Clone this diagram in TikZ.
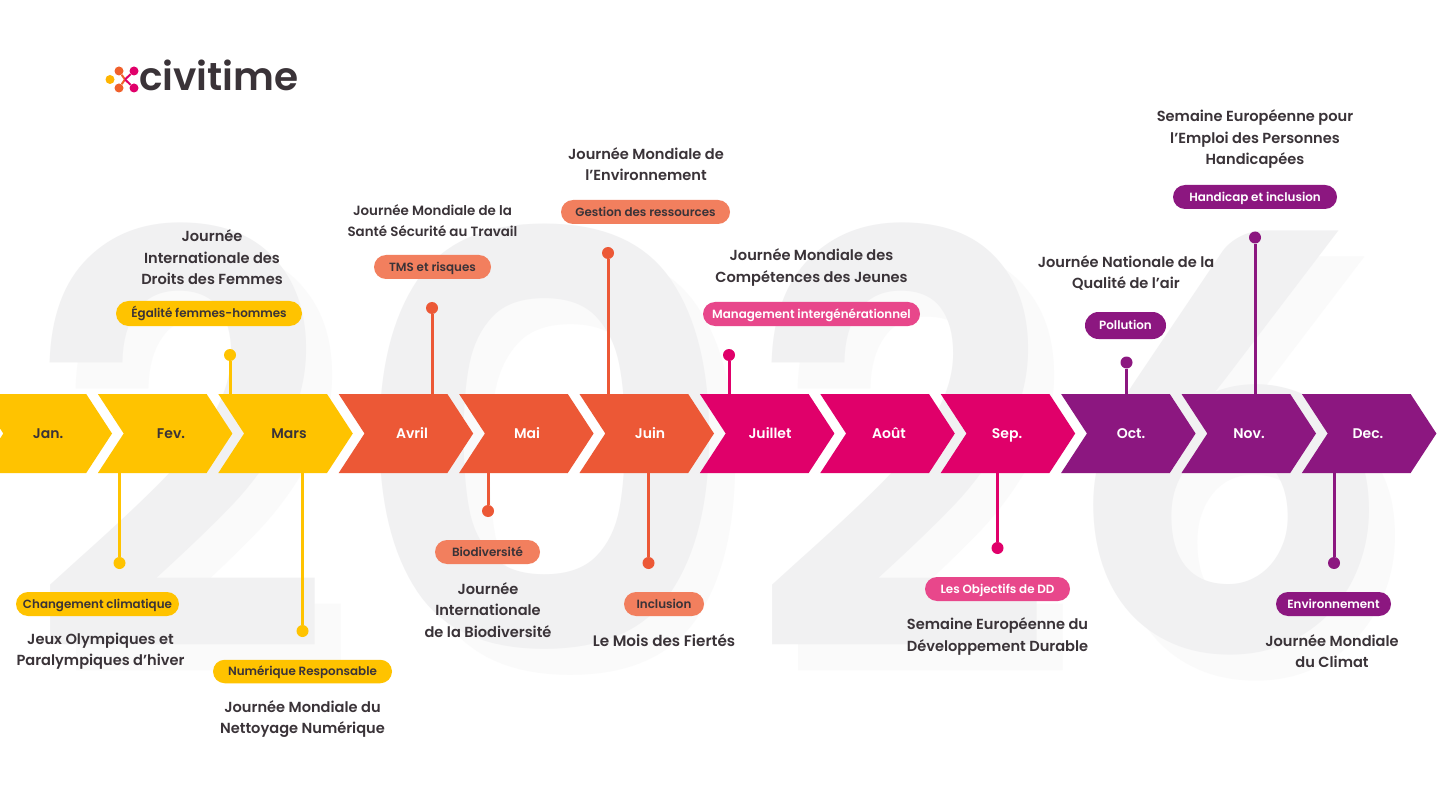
\documentclass[tikz,border=0pt]{standalone}
\usepackage{fontspec}
\setmainfont{Poppins}[UprightFont=* Medium,BoldFont=* SemiBold]
\newfontfamily\sixfont{Lato}[UprightFont=* Black]
\usetikzlibrary{shapes.misc}
\definecolor{ink}{HTML}{3A3338}
\definecolor{cy}{HTML}{FFC300}
\definecolor{co}{HTML}{EC5836}
\definecolor{cp}{HTML}{E0006A}
\definecolor{cv}{HTML}{8C1780}
\definecolor{po}{HTML}{F27F5E}
\definecolor{pp}{HTML}{E8478B}
\definecolor{bgmain}{HTML}{F1F1F2}
\definecolor{bgshade}{HTML}{FAFAFA}
\tikzset{
 month/.style={font=\bfseries\fontsize{14}{14}\selectfont,inner sep=0pt,text height=14pt,text depth=3pt},
 pill/.style={rounded rectangle,inner sep=0pt,font=\bfseries\fontsize{11.9}{11.9}\selectfont,text height=11pt,text depth=2.5pt},
 event/.style={align=center,text=ink,font=\bfseries\fontsize{14.6}{21.6}\selectfont,inner sep=0pt},
 dot/.style={circle,inner sep=0pt,minimum size=12pt},
 stem/.style={line width=3pt},
 bigdigit/.style={inner sep=0pt,anchor=base west,font=\fontsize{574}{574}\selectfont\bfseries},
 bigsix/.style={inner sep=0pt,anchor=base west,font=\fontsize{576}{576}\selectfont\sixfont},
}
\newcommand{\chev}[2]{\fill[#2] (#1,394) -- ++(108.7,0) -- ++(25.8,39.5) -- ++(-25.8,39.5) -- ++(-108.7,0) -- ++(25.8,-39.5) -- cycle;}
\newcommand{\narrowdigit}[1]{\scalebox{.933}[1]{#1}}
\newcommand{\widedigit}[1]{\scalebox{1.064}[1]{#1}}
\newcommand{\sixdigit}[1]{\scalebox{.91}[1]{#1}}
\begin{document}
\begin{tikzpicture}[x=1pt,y=-1pt]
\useasboundingbox (0,0) rectangle (1440,810);
\fill[white] (0,0) rectangle (1440,810);
% background year: lighter offset copy, then the main digits
\node[bigdigit,text=bgshade] (sa) at (52.7,676) {\narrowdigit{2}};
\node[bigdigit,text=bgshade] (sb) at (373.5,676) {\widedigit{0}};
\node[bigdigit,text=bgshade] (sc) at (774,676) {\narrowdigit{2}};
\node[bigsix,text=bgshade] (sd) at (1103.4,676) {\sixdigit{6}};
\node[bigdigit,text=bgmain] (ma) at (26.7,650) {\narrowdigit{2}};
\node[bigdigit,text=bgmain] (mb) at (347.5,650) {\widedigit{0}};
\node[bigdigit,text=bgmain] (mc) at (748,650) {\narrowdigit{2}};
\node[bigsix,text=bgmain] (md) at (1077.4,650) {\sixdigit{6}};
% logo
\coordinate (lc) at (125,79.5);
\node[dot,minimum size=9pt,fill=cy!80!orange] (l1) at (110,79.5) {};
\node[dot,minimum size=9pt,fill=co!80!orange] (l2) at (119,71) {};
\node[dot,minimum size=9pt,fill=co!80!orange] (l3) at (119,88) {};
\node[dot,minimum size=9pt,fill=cp] (l4) at (134,71) {};
\node[dot,minimum size=9pt,fill=cp] (l5) at (134,88) {};
\draw[line width=2pt,co!80!orange] (l2) -- (lc) (l3) -- (lc);
\draw[line width=2pt,cp] (l4) -- (lc) (l5) -- (lc);
\node[inner sep=0pt,anchor=base west,text=ink,font=\bfseries\fontsize{39}{39}\selectfont] (logo) at (139,91) {civitime};
% bar
\coordinate (top) at (0,394);
\coordinate (bot) at (0,473);
\chev{-22.5}{cy}\chev{97.9}{cy}\chev{218.3}{cy}
\chev{338.7}{co}\chev{459.1}{co}\chev{579.5}{co}
\chev{699.9}{cp}\chev{820.3}{cp}\chev{940.7}{cp}
\chev{1061.1}{cv}\chev{1181.5}{cv}\chev{1301.9}{cv}
\node[month,text=ink] (m1) at (48,433) {Jan.};
\node[month,text=ink] (m2) at (171,433) {Fev.};
\node[month,text=ink] (m3) at (289,433) {Mars};
\node[month,text=white] (m4) at (412,433) {Avril};
\node[month,text=white] (m5) at (527,433) {Mai};
\node[month,text=white] (m6) at (650,433) {Juin};
\node[month,text=white] (m7) at (770,433) {Juillet};
\node[month,text=white] (m8) at (889,433) {Août};
\node[month,text=white] (m9) at (1007,433) {Sep.};
\node[month,text=white] (m10) at (1131,433) {Oct.};
\node[month,text=white] (m11) at (1249,433) {Nov.};
\node[month,text=white] (m12) at (1368,433) {Dec.};
% markers
\node[dot,fill=cy] (d1) at (119.5,563) {};
\node[dot,fill=cy] (d2) at (230,355) {};
\node[dot,fill=cy] (d3) at (302.5,631) {};
\node[dot,fill=co] (d4) at (432,308) {};
\node[dot,fill=co] (d5) at (488,511) {};
\node[dot,fill=co] (d6) at (608,253) {};
\node[dot,fill=co] (d7) at (648.5,563) {};
\node[dot,fill=cp] (d8) at (729,355) {};
\node[dot,fill=cp] (d9) at (997.5,548) {};
\node[dot,fill=cv] (d10) at (1126.5,362.5) {};
\node[dot,fill=cv] (d11) at (1255,237.5) {};
\node[dot,fill=cv] (d12) at (1334,563) {};
\draw[stem,cy] (d1) -- (d1|-bot);
\draw[stem,cy] (d2) -- (d2|-top);
\draw[stem,cy] (d3) -- (d3|-bot);
\draw[stem,co] (d4) -- (d4|-top);
\draw[stem,co] (d5) -- (d5|-bot);
\draw[stem,co] (d6) -- (d6|-top);
\draw[stem,co] (d7) -- (d7|-bot);
\draw[stem,cp] (d8) -- (d8|-top);
\draw[stem,cp] (d9) -- (d9|-bot);
\draw[stem,cv] (d10) -- (d10|-top);
\draw[stem,cv] (d11) -- (d11|-top);
\draw[stem,cv] (d12) -- (d12|-bot);
% pills
\node[pill,fill=cy,text=ink,minimum width=186pt,minimum height=25pt] (p1) at (209,313.5) {Égalité femmes-hommes};
\node[pill,fill=po,text=ink,minimum width=117pt,minimum height=24pt] (p2) at (432.5,267) {TMS et risques};
\node[pill,fill=po,text=ink,minimum width=169pt,minimum height=24pt] (p3) at (645.5,212) {Gestion des ressources};
\node[pill,fill=pp,text=white,minimum width=217pt,minimum height=24pt] (p4) at (811.5,314) {Management intergénérationnel};
\node[pill,fill=cv,text=white,minimum width=81pt,minimum height=27pt] (p5) at (1125.5,325.5) {Pollution};
\node[pill,fill=cv,text=white,minimum width=164pt,minimum height=24pt] (p6) at (1255,197) {Handicap et inclusion};
\node[pill,fill=cy,text=ink,minimum width=163pt,minimum height=24pt] (p7) at (97.5,604) {Changement climatique};
\node[pill,fill=cy,text=ink,minimum width=179pt,minimum height=23.5pt] (p8) at (302.5,671.5) {Numérique Responsable};
\node[pill,fill=po,text=ink,minimum width=105pt,minimum height=24pt] (p9) at (487.5,552) {Biodiversité};
\node[pill,fill=po,text=ink,minimum width=80pt,minimum height=24pt] (p10) at (664,604) {Inclusion};
\node[pill,fill=pp,text=white,minimum width=145pt,minimum height=24pt] (p11) at (997.5,589) {Les Objectifs de DD};
\node[pill,fill=cv,text=white,minimum width=115pt,minimum height=24pt] (p12) at (1333.5,604) {Environnement};
% events
\node[event] (e1) at (212,257.5) {Journée\\Internationale des\\Droits des Femmes};
\node[event,font=\bfseries\fontsize{13.4}{21.6}\selectfont] (e2) at (432.5,220.5) {Journée Mondiale de la\\Santé Sécurité au Travail};
\node[event] (e3) at (646,164) {Journée Mondiale de\\l’Environnement};
\node[event] (e4) at (811.5,267.5) {Journée Mondiale des\\Compétences des Jeunes};
\node[event] (e5) at (1126,273) {Journée Nationale de la\\Qualité de l’air};
\node[event] (e6) at (1255,139) {Semaine Européenne pour\\l’Emploi des Personnes\\Handicapées};
\node[event] (e7) at (100.5,651) {Jeux Olympiques et\\Paralympiques d’hiver};
\node[event] (e8) at (302.5,719) {Journée Mondiale du\\Nettoyage Numérique};
\node[event] (e9) at (488,610) {Journée\\Internationale\\de la Biodiversité};
\node[event,font=\bfseries\fontsize{15.2}{21.6}\selectfont] (e10) at (664,640) {Le Mois des Fiertés};
\node[event] (e11) at (997.5,636.5) {Semaine Européenne du\\Développement Durable};
\node[event] (e12) at (1332,651) {Journée Mondiale\\du Climat};
\end{tikzpicture}
\end{document}
